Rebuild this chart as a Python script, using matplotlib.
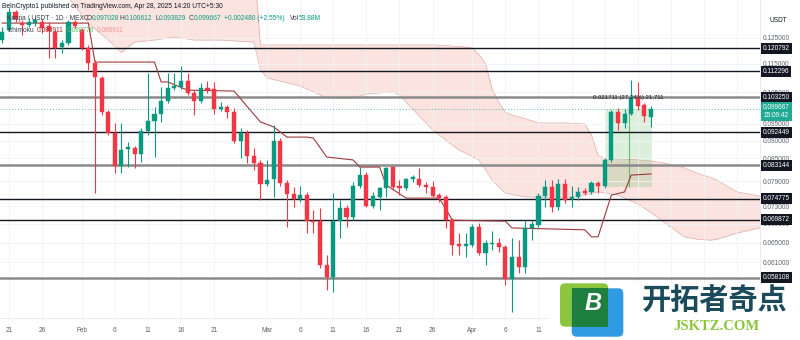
import matplotlib
matplotlib.use("Agg")
import matplotlib.pyplot as plt
import matplotlib.dates as mdates
import numpy as np
import pandas as pd
from matplotlib.patches import FancyBboxPatch, Rectangle
from matplotlib.ticker import FixedLocator, NullLocator, FuncFormatter

plt.rcParams['font.family'] = ['Liberation Sans', 'DejaVu Sans']

UP = '#089981'
DOWN = '#f23645'

# KAS/USDT daily candles, Jan 20 - Apr 28 2025
dates = pd.date_range('2025-01-20', '2025-04-28', freq='D')
opens = [0.1240, 0.1281, 0.1356, 0.1309, 0.1301, 0.1309, 0.1314, 0.1297, 0.1272, 0.1213,
         0.1229, 0.1314, 0.1281, 0.1209, 0.1153, 0.1099, 0.0986, 0.0922, 0.0830, 0.0876,
         0.0879, 0.0862, 0.0928, 0.0958, 0.0979, 0.1021, 0.1064, 0.1067, 0.1088, 0.1047,
         0.1021, 0.1064, 0.1061, 0.0995, 0.1001, 0.0986, 0.0899, 0.0922, 0.0857, 0.0838,
         0.0783, 0.0796, 0.0899, 0.0786, 0.0759, 0.0747, 0.0756, 0.0696, 0.0696, 0.0605,
         0.0582, 0.0696, 0.0726, 0.0705, 0.0778, 0.0806, 0.0730, 0.0752, 0.0773, 0.0827,
         0.0778, 0.0773, 0.0796, 0.0796, 0.0781, 0.0776, 0.0756, 0.0752, 0.0698, 0.0647,
         0.0643, 0.0645, 0.0683, 0.0629, 0.0647, 0.0649, 0.0641, 0.0579, 0.0621, 0.0601,
         0.0681, 0.0687, 0.0754, 0.0776, 0.0728, 0.0783, 0.0747, 0.0752, 0.0766, 0.0764,
         0.0786, 0.0778, 0.0846, 0.0986, 0.0952, 0.0979, 0.1031, 0.1008, 0.097028]
highs = [0.1293, 0.1374, 0.1365, 0.1322, 0.1331, 0.1335, 0.1326, 0.1314, 0.1281, 0.1240,
         0.1322, 0.1322, 0.1289, 0.1221, 0.1164, 0.1106, 0.0992, 0.0952, 0.0952, 0.0896,
         0.0884, 0.0937, 0.1116, 0.1001, 0.1067, 0.1116, 0.1116, 0.1142, 0.1116, 0.1057,
         0.1081, 0.1088, 0.1085, 0.1017, 0.1008, 0.0998, 0.0937, 0.0931, 0.0879, 0.0846,
         0.0846, 0.0946, 0.0907, 0.0793, 0.0776, 0.0778, 0.0764, 0.0721, 0.0726, 0.0625,
         0.0761, 0.0744, 0.0732, 0.0788, 0.0827, 0.0814, 0.0764, 0.0776, 0.0827, 0.0830,
         0.0793, 0.0798, 0.0806, 0.0824, 0.0788, 0.0791, 0.0761, 0.0756, 0.0703, 0.0670,
         0.0670, 0.0690, 0.0692, 0.0655, 0.0675, 0.0659, 0.0645, 0.0659, 0.0655, 0.0698,
         0.0698, 0.0761, 0.0793, 0.0793, 0.0796, 0.0796, 0.0778, 0.0776, 0.0773, 0.0791,
         0.0791, 0.0851, 0.0992, 0.0998, 0.0995, 0.1092, 0.1085, 0.1014, 0.100612]
lows = [0.1229, 0.1277, 0.1314, 0.1260, 0.1293, 0.1297, 0.1268, 0.1171, 0.1171, 0.1190,
        0.1221, 0.1289, 0.1202, 0.1127, 0.0761, 0.0976, 0.0916, 0.0811, 0.0811, 0.0827,
        0.0824, 0.0840, 0.0916, 0.0854, 0.0955, 0.1014, 0.1057, 0.1061, 0.1041, 0.0976,
        0.1014, 0.1047, 0.0979, 0.0989, 0.0967, 0.0892, 0.0851, 0.0838, 0.0819, 0.0744,
        0.0778, 0.0752, 0.0778, 0.0683, 0.0728, 0.0740, 0.0670, 0.0670, 0.0599, 0.0559,
        0.0555, 0.0659, 0.0683, 0.0698, 0.0773, 0.0728, 0.0726, 0.0721, 0.0752, 0.0769,
        0.0756, 0.0769, 0.0788, 0.0776, 0.0761, 0.0752, 0.0740, 0.0681, 0.0625, 0.0625,
        0.0621, 0.0641, 0.0625, 0.0605, 0.0635, 0.0631, 0.0568, 0.0521, 0.0590, 0.0590,
        0.0655, 0.0683, 0.0728, 0.0716, 0.0721, 0.0737, 0.0728, 0.0744, 0.0756, 0.0759,
        0.0761, 0.0773, 0.0840, 0.0931, 0.0937, 0.0976, 0.0992, 0.0955, 0.093829]
closes = [0.1272, 0.1356, 0.1326, 0.1301, 0.1314, 0.1322, 0.1289, 0.1276, 0.1209, 0.1229,
          0.1314, 0.1297, 0.1209, 0.1153, 0.1102, 0.0986, 0.0922, 0.0830, 0.0873, 0.0881,
          0.0862, 0.0928, 0.0958, 0.0979, 0.1021, 0.1064, 0.1071, 0.1088, 0.1047, 0.1021,
          0.1064, 0.1057, 0.0995, 0.1001, 0.0986, 0.0899, 0.0922, 0.0857, 0.0838, 0.0783,
          0.0793, 0.0899, 0.0786, 0.0759, 0.0747, 0.0756, 0.0696, 0.0694, 0.0605, 0.0582,
          0.0696, 0.0726, 0.0705, 0.0778, 0.0806, 0.0730, 0.0754, 0.0773, 0.0824, 0.0776,
          0.0773, 0.0796, 0.0801, 0.0781, 0.0776, 0.0754, 0.0749, 0.0698, 0.0645, 0.0643,
          0.0647, 0.0683, 0.0629, 0.0649, 0.0649, 0.0641, 0.0579, 0.0621, 0.0601, 0.0681,
          0.0690, 0.0754, 0.0776, 0.0728, 0.0783, 0.0744, 0.0752, 0.0764, 0.0761, 0.0786,
          0.0778, 0.0846, 0.0986, 0.0952, 0.0979, 0.1031, 0.1005, 0.0973, 0.099667]

# Ichimoku base line and cloud edges, keyed by days after Jan 21
kijun_days = [-1, 12, 13, 22, 23, 24, 27, 34, 38, 40, 42, 45, 46, 48, 52, 53, 56, 57,
              60, 65, 67, 75, 76, 87, 88, 89, 91, 93, 94, 97]
kijun = [0.1309, 0.1309, 0.1156, 0.1156, 0.1085, 0.1085, 0.1057, 0.1054, 0.0955, 0.0940,
         0.0910, 0.0910, 0.0907, 0.0854, 0.0846, 0.0827, 0.0827, 0.0781, 0.0749, 0.0749,
         0.0698, 0.0696, 0.0681, 0.0677, 0.0662, 0.0662, 0.0756, 0.0764, 0.0806, 0.080911]

cloud_days = [-2, 9, 12, 15, 17, 19, 22, 25, 28, 32, 37, 38, 39, 44, 47, 48, 52, 54, 58,
              59, 60, 64, 68, 70, 71, 72, 73, 74, 75, 76, 78, 80, 84, 87, 88, 89, 90, 92,
              95, 97, 99, 102, 104, 106, 107, 110, 114]
span_top = [0.160, 0.160, 0.160, 0.160, 0.160, 0.160, 0.160, 0.160, 0.160, 0.160, 0.160,
            0.1221, 0.1221, 0.1221, 0.1221, 0.1221, 0.1221, 0.1221, 0.1221, 0.1221, 0.1221,
            0.1221, 0.1215, 0.1209, 0.1185, 0.1150, 0.1060, 0.1017, 0.0985, 0.0976, 0.0965,
            0.0952, 0.0952, 0.0949, 0.0916, 0.0859, 0.0849, 0.0849, 0.0846, 0.0843, 0.0838,
            0.0825, 0.0811, 0.0800, 0.0793, 0.0764, 0.0752]
span_bottom = [0.150, 0.142, 0.1309, 0.1240, 0.1192, 0.1232, 0.1240, 0.1252, 0.1240, 0.1240,
               0.1232, 0.1127, 0.1099, 0.1071, 0.1041, 0.1031, 0.1031, 0.1044, 0.1051, 0.1041,
               0.1017, 0.0931, 0.0873, 0.0855, 0.0846, 0.0820, 0.0793, 0.0776, 0.0761, 0.0758,
               0.0752, 0.0751, 0.0749, 0.0757, 0.0760, 0.0764, 0.0762, 0.0756, 0.0735, 0.0715,
               0.0693, 0.0662, 0.0657, 0.0655, 0.0657, 0.0670, 0.0683]

levels = [0.120792, 0.112296, 0.103250, 0.092449, 0.083144, 0.074775, 0.069872, 0.058108]
heavy_levels = [0.103250, 0.083144, 0.058108]
last_price = 0.099667
price_ticks = [0.125, 0.115, 0.105, 0.095, 0.090, 0.085, 0.079, 0.073, 0.069, 0.065, 0.061]
tick_dates = pd.to_datetime(['2025-01-21', '2025-01-26', '2025-02-01', '2025-02-06',
                             '2025-02-11', '2025-02-16', '2025-02-21', '2025-03-01',
                             '2025-03-06', '2025-03-11', '2025-03-16', '2025-03-21',
                             '2025-03-26', '2025-04-01', '2025-04-06', '2025-04-11',
                             '2025-04-16', '2025-04-21', '2025-04-26', '2025-05-01',
                             '2025-05-06', '2025-05-11'])
last_labelled = pd.Timestamp('2025-04-11')  # later dates sit under the logo

# price range measurement drawn on the last rally
range_days = (90.0, 97.15)
range_low = 0.0777
range_size = 0.021711
range_pct = 27.24

t0 = mdates.date2num(pd.Timestamp('2025-01-21'))
x = mdates.date2num(dates)
o, h, l, c = map(np.array, (opens, highs, lows, closes))
colors = np.where(c >= o, UP, DOWN)

fig = plt.figure(figsize=(8, 3.4), dpi=100)
ax = fig.add_axes([0, 22 / 340, 0.95, 318 / 340])
ax.set_yscale('log')
ax.set_ylim(0.05110, 0.14091)
ax.set_xlim(t0 - 1.344, t0 + 113.46)

# grid + axes
ax.yaxis.set_major_locator(FixedLocator(price_ticks))
ax.yaxis.set_minor_locator(NullLocator())
ax.yaxis.set_major_formatter(FuncFormatter(lambda v, p: f'{v:.6f}'))
ax.yaxis.tick_right()
ax.xaxis.set_major_locator(FixedLocator(mdates.date2num(tick_dates)))
ax.set_xticklabels(['' if d > last_labelled else (d.strftime('%b') if d.day == 1 else str(d.day))
                    for d in tick_dates])
ax.tick_params(axis='y', length=0, pad=2.2, labelsize=4.7, labelcolor='#5d606b')
ax.tick_params(axis='x', length=0, pad=6.3, labelsize=4.7, labelcolor='#5d606b')
ax.grid(True, color='#f0f2f6', lw=0.6, zorder=0)
for side in ('top', 'left'):
    ax.spines[side].set_visible(False)
for side in ('right', 'bottom'):
    ax.spines[side].set_color('#e6e8ee')
    ax.spines[side].set_linewidth(0.6)

# cloud
cx = t0 + np.array(cloud_days)
ax.fill_between(cx, span_bottom, span_top, color='#f9cdc8', alpha=0.55, lw=0, zorder=1)
ax.plot(cx, span_top, color='#e3aaa4', lw=0.5, zorder=1.2)
ax.plot(cx, span_bottom, color='#d9b3ad', lw=0.5, zorder=1.2)

# support / resistance
for lv in levels:
    if lv in heavy_levels:
        ax.axhline(lv, color='#8a8a8a', lw=1.8, zorder=2)
    else:
        ax.axhline(lv, color='#131722', lw=1.0, zorder=2)
ax.axhline(last_price, color=UP, lw=0.7, ls=(0, (1, 2)), alpha=0.6, zorder=2)

# base line
ax.plot(t0 + np.array(kijun_days), kijun, color='#9c3b3b', lw=0.8, zorder=2.5)

# measurement box
rx0, rx1 = t0 + range_days[0], t0 + range_days[1]
ax.add_patch(Rectangle((rx0, range_low), rx1 - rx0, range_size,
                       fc='#4caf50', alpha=0.2, lw=0, zorder=1.5))
ax.vlines(t0 + 93.7, range_low, range_low + range_size, color='#4caf50', lw=0.8,
          alpha=0.8, zorder=1.6)
ax.annotate(f'{range_size:.6f} ({range_pct:.2f}%) {range_size * 1e6:,.0f}',
            xy=((rx0 + rx1) / 2, range_low + range_size), xytext=(0, 7),
            textcoords='offset points', ha='center', va='bottom', fontsize=4.3,
            color='#131722', zorder=6)

# candles
ax.vlines(x, l, h, colors=colors, lw=0.8, zorder=2.9)
ax.bar(x, np.abs(c - o), bottom=np.minimum(o, c), width=0.62, color=colors,
       edgecolor=colors, lw=0.3, zorder=3)

# right-hand price tags
ytr = ax.get_yaxis_transform()
for lv in levels:
    ax.text(1.004, lv, f'{lv:.6f}', transform=ytr, ha='left', va='center', fontsize=4.7,
            color='white', clip_on=False, zorder=10,
            bbox=dict(boxstyle='square,pad=0.3', fc='#131722', ec='none'))
ax.annotate(f'{last_price:.6f}\n15:09:42', xy=(1.004, last_price), xycoords=ytr,
            xytext=(0, 3.2), textcoords='offset points', ha='left', va='top',
            fontsize=4.7, color='white', linespacing=1.15, annotation_clip=False, zorder=10,
            bbox=dict(boxstyle='square,pad=0.3', fc='#22ab94', ec='none'))
fig.text(778 / 800, 1 - 20 / 340, 'USDT', fontsize=4.7, color='#131722',
         ha='center', va='center')


def text_row(x0, y0, parts, size=4.8, gap=3):
    # lay out coloured text pieces left to right (pixel positions)
    r = fig.canvas.get_renderer()
    xp = x0
    for s, col in parts:
        t = fig.text(xp / 800, 1 - y0 / 340, s, color=col, fontsize=size, ha='left', va='center')
        xp = t.get_window_extent(r).x1 + gap


text_row(2, 6, [('BeInCrypto1 published on TradingView.com, Apr 28, 2025 14:20 UTC+5:30', '#131722')])
dark = '#3b3e48'
text_row(7, 19, [('Kaspa / USDT · 1D · MEXC', dark)])
text_row(87, 19, [('O', dark), ('0.097028', UP)], gap=0)
text_row(120, 19, [('H', dark), ('0.100612', UP)], gap=0)
text_row(155, 19, [('L', dark), ('0.093829', UP)], gap=0)
text_row(189, 19, [('C', dark), ('0.099667', UP)], gap=0)
text_row(224, 19, [('+0.002480 (+2.55%)', UP)])
text_row(290, 19, [('Vol', dark), ('53.88M', UP)], gap=0)
text_row(7, 30, [('Ichimoku', dark), ('0.080911', '#a0302c'), ('0.088776', '#66bb6a'),
                 ('0.080911', '#ef9a9a')])

# logo block, bottom right (positions in inches)
fig.patches.append(Rectangle((548 / 800, 0), 252 / 800, 57 / 340, transform=fig.transFigure,
                             fc='white', ec='none', zorder=5))
for (px, py, pw, ph, col) in [(5.60, 0.133, 0.483, 0.434, '#8cc63e'),
                              (5.717, 0.033, 0.516, 0.484, '#2f9be3')]:
    fig.patches.append(FancyBboxPatch((px, py), pw, ph,
                                      boxstyle='round,pad=0,rounding_size=0.05',
                                      transform=fig.dpi_scale_trans, fc=col, ec='none', zorder=6))
fig.patches.append(Rectangle((5.717, 0.133), 0.366, 0.384, transform=fig.dpi_scale_trans,
                             fc='#1f7f3f', ec='none', zorder=7))
fig.text(593 / 800, 1 - 303 / 340, 'B', fontsize=17, fontweight='bold', fontstyle='italic',
         color='white', ha='center', va='center', zorder=8)
fig.text(715 / 800, 1 - 301 / 340, '开拓者奇点', fontsize=21, fontweight='bold',
         family=['Noto Sans CJK SC', 'DejaVu Sans'], color='#1b4a5a',
         ha='center', va='center', zorder=8)
fig.text(716 / 800, 1 - 326 / 340, 'JSKTZ.COM', fontsize=10.5, fontweight='bold',
         family=['Liberation Serif', 'DejaVu Serif'], color='#8cc63e',
         ha='center', va='center', zorder=8)

fig.savefig('out.png', dpi=100)
